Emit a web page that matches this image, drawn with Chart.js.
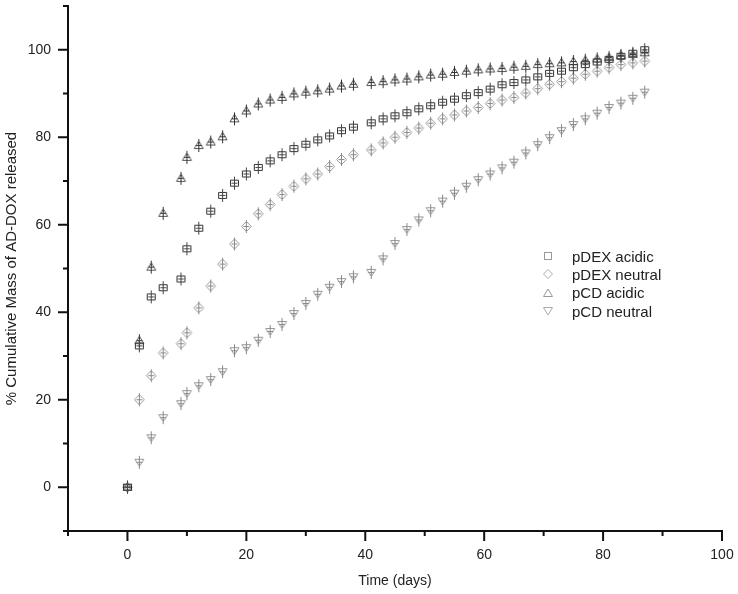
<!DOCTYPE html>
<html>
<head>
<meta charset="utf-8">
<script src="https://cdn.jsdelivr.net/npm/chart.js@4.4.1/dist/chart.umd.min.js"></script>
<style>
  html, body { margin: 0; padding: 0; background: #fff; }
  #wrap { position: relative; width: 738px; height: 594px; }
  #legend { position: absolute; left: 541px; top: 247px; font: 15px "Liberation Sans", Arial, sans-serif; color: #222; }
  #legend div { height: 18.3px; display: flex; align-items: center; white-space: nowrap; }
  #legend svg { width: 14px; height: 14px; margin-right: 17px; flex: none; }
</style>
</head>
<body>
<div id="wrap">
  <canvas id="releaseChart" width="738" height="594"></canvas>
  <div id="legend">
    <div><svg viewBox="0 0 14 14"><rect x="3.5" y="3.5" width="7" height="7" fill="none" stroke="#999"/></svg>pDEX acidic</div>
    <div><svg viewBox="0 0 14 14"><path d="M7 2.5 L11.5 7 L7 11.5 L2.5 7 Z" fill="none" stroke="#aaa"/></svg>pDEX neutral</div>
    <div><svg viewBox="0 0 14 14"><path d="M7 3 L11.5 10.5 L2.5 10.5 Z" fill="none" stroke="#999"/></svg>pCD acidic</div>
    <div><svg viewBox="0 0 14 14"><path d="M7 11 L11.5 3.5 L2.5 3.5 Z" fill="none" stroke="#aaa"/></svg>pCD neutral</div>
  </div>
</div>
<script>
// sampling days
const days = [0, 2, 4, 6, 9, 10, 12, 14, 16, 18, 20, 22, 24, 26, 28, 30, 32, 34, 36, 38,
  41, 43, 45, 47, 49, 51, 53, 55, 57, 59, 61, 63, 65, 67, 69, 71, 73, 75, 77, 79, 81, 83, 85, 87];

// % cumulative mass released
const pdexAcidic = [0, 32.3, 43.5, 45.6, 47.6, 54.5, 59.2, 63.1, 66.7, 69.5, 71.6, 73.1, 74.6, 76.0, 77.4, 78.4, 79.4, 80.3, 81.5, 82.3,
  83.3, 84.2, 84.9, 85.6, 86.5, 87.2, 88.0, 88.7, 89.5, 90.2, 91.0, 92.0, 92.5, 93.1, 93.8, 94.6, 95.1, 95.9, 96.6, 97.2, 97.8, 98.5, 99.2, 100.0];
const pdexNeutral = [0, 20.0, 25.5, 30.7, 32.8, 35.3, 41.0, 46.0, 51.0, 55.6, 59.6, 62.5, 64.6, 66.9, 68.8, 70.5, 71.6, 73.3, 74.9, 76.0,
  77.1, 78.7, 80.0, 81.1, 82.1, 83.2, 84.2, 85.1, 86.0, 86.8, 87.7, 88.5, 89.1, 90.1, 91.1, 92.1, 92.7, 93.5, 94.4, 95.1, 95.9, 96.6, 97.0, 97.4];
const pcdAcidic = [0, 33.5, 50.3, 62.6, 70.6, 75.4, 78.1, 78.9, 80.1, 84.2, 86.0, 87.6, 88.5, 89.1, 89.9, 90.3, 90.6, 91.0, 91.7, 92.1,
  92.5, 92.7, 93.1, 93.3, 93.8, 94.2, 94.4, 94.8, 95.1, 95.4, 95.6, 95.7, 96.0, 96.2, 96.6, 96.8, 97.0, 97.3, 97.6, 97.9, 98.2, 98.7, 98.9, 99.3];
const pcdNeutral = [0, 5.7, 11.3, 15.9, 19.1, 21.4, 23.2, 24.6, 26.4, 31.2, 31.9, 33.6, 35.6, 37.2, 39.7, 42.0, 44.1, 45.7, 47.0, 48.1,
  49.1, 52.2, 55.7, 58.9, 61.1, 63.2, 65.4, 67.2, 68.8, 70.3, 71.6, 73.0, 74.3, 76.4, 78.3, 79.9, 81.5, 82.9, 84.2, 85.5, 86.8, 87.8, 88.9, 90.3];

const seriesNames = ['pDEX acidic', 'pDEX neutral', 'pCD acidic', 'pCD neutral'];

const FONT = '"Liberation Sans", Arial, sans-serif';

// marker with the little error bar cross drawn through it
function makeGlyph(shape, color, barColor) {
  const c = document.createElement('canvas');
  c.width = 15;
  c.height = 15;
  const g = c.getContext('2d');
  g.strokeStyle = color;
  g.lineWidth = 1;
  g.beginPath();
  if (shape === 'square') {
    g.rect(3.5, 4.5, 8, 6);
  } else if (shape === 'diamond') {
    g.moveTo(7.5, 2.5); g.lineTo(12.5, 7.5); g.lineTo(7.5, 12.5); g.lineTo(2.5, 7.5); g.closePath();
  } else if (shape === 'up') {
    g.moveTo(7.5, 3); g.lineTo(12, 10.5); g.lineTo(3, 10.5); g.closePath();
  } else {
    g.moveTo(7.5, 11.5); g.lineTo(12, 4.5); g.lineTo(3, 4.5); g.closePath();
  }
  g.stroke();
  g.strokeStyle = barColor;
  g.beginPath();
  g.moveTo(7.5, 1); g.lineTo(7.5, 14);
  g.moveTo(4.5, 7.5); g.lineTo(10.5, 7.5);
  g.stroke();
  return c;
}

const toPoints = (vals) => vals.map((v, i) => ({ x: days[i], y: v }));

// no extra room for overhanging labels, the plot box is set by layout padding
const fixX = (scale) => {
  scale.height = 63;
  scale.paddingLeft = 0; scale.paddingRight = 0; scale.paddingTop = 0; scale.paddingBottom = 0;
};
const fixY = (scale) => {
  scale.width = 68;
  scale.paddingLeft = 0; scale.paddingRight = 0; scale.paddingTop = 0; scale.paddingBottom = 0;
};

const tickMarks = {
  id: 'tickMarks',
  afterDraw(chart) {
    const ctx = chart.ctx;
    const xs = chart.scales.x;
    const ys = chart.scales.y;
    ctx.save();
    ctx.strokeStyle = '#111';
    ctx.lineWidth = 2;
    ctx.beginPath();
    xs.ticks.forEach((t) => {
      const px = xs.getPixelForValue(t.value);
      const len = t.value % 20 === 0 ? 10 : 5;
      ctx.moveTo(px, xs.top);
      ctx.lineTo(px, xs.top + len);
    });
    ys.ticks.forEach((t) => {
      const py = ys.getPixelForValue(t.value);
      const len = t.value % 20 === 0 ? 10 : 5;
      ctx.moveTo(ys.right, py);
      ctx.lineTo(ys.right - len, py);
    });
    ctx.stroke();
    ctx.restore();
  }
};

const ctx = document.getElementById('releaseChart').getContext('2d');
new Chart(ctx, {
  type: 'scatter',
  data: {
    datasets: [
      { label: seriesNames[0], data: toPoints(pdexAcidic), pointStyle: makeGlyph('square', '#333', '#444'), pointRadius: 5 },
      { label: seriesNames[1], data: toPoints(pdexNeutral), pointStyle: makeGlyph('diamond', '#999', '#888'), pointRadius: 5 },
      { label: seriesNames[2], data: toPoints(pcdAcidic), pointStyle: makeGlyph('up', '#555', '#333'), pointRadius: 5 },
      { label: seriesNames[3], data: toPoints(pcdNeutral), pointStyle: makeGlyph('down', '#999', '#888'), pointRadius: 5 },
    ],
  },
  options: {
    responsive: false,
    animation: false,
    events: [],
    layout: { padding: { top: 5, right: 16, left: 0, bottom: 0 } },
    plugins: {
      legend: { display: false },
      tooltip: { enabled: false },
    },
    scales: {
      x: {
        type: 'linear',
        min: -10,
        max: 100,
        afterFit: fixX,
        grid: { display: false, drawTicks: false },
        border: { display: true, color: '#111', width: 2 },
        ticks: {
          stepSize: 10,
          autoSkip: false,
          maxRotation: 0,
          padding: 16,
          color: '#222',
          font: { family: FONT, size: 14 },
          callback: (v) => (v % 20 === 0 ? v : ''),
        },
        title: {
          display: true,
          text: 'Time (days)',
          color: '#222',
          font: { family: FONT, size: 14 },
          padding: { top: 0, bottom: 4.5 },
        },
      },
      y: {
        min: -10,
        max: 110,
        afterFit: fixY,
        grid: { display: false, drawTicks: false },
        border: { display: true, color: '#111', width: 2 },
        ticks: {
          stepSize: 10,
          autoSkip: false,
          padding: 17,
          color: '#222',
          font: { family: FONT, size: 14 },
          callback: (v) => (v % 20 === 0 && v >= 0 && v <= 100 ? v : ''),
        },
        title: {
          display: true,
          text: '% Cumulative Mass of AD-DOX released',
          color: '#222',
          font: { family: FONT, size: 15 },
          padding: { top: 3, bottom: 0 },
        },
      },
    },
  },
  plugins: [tickMarks],
});
</script>
</body>
</html>
